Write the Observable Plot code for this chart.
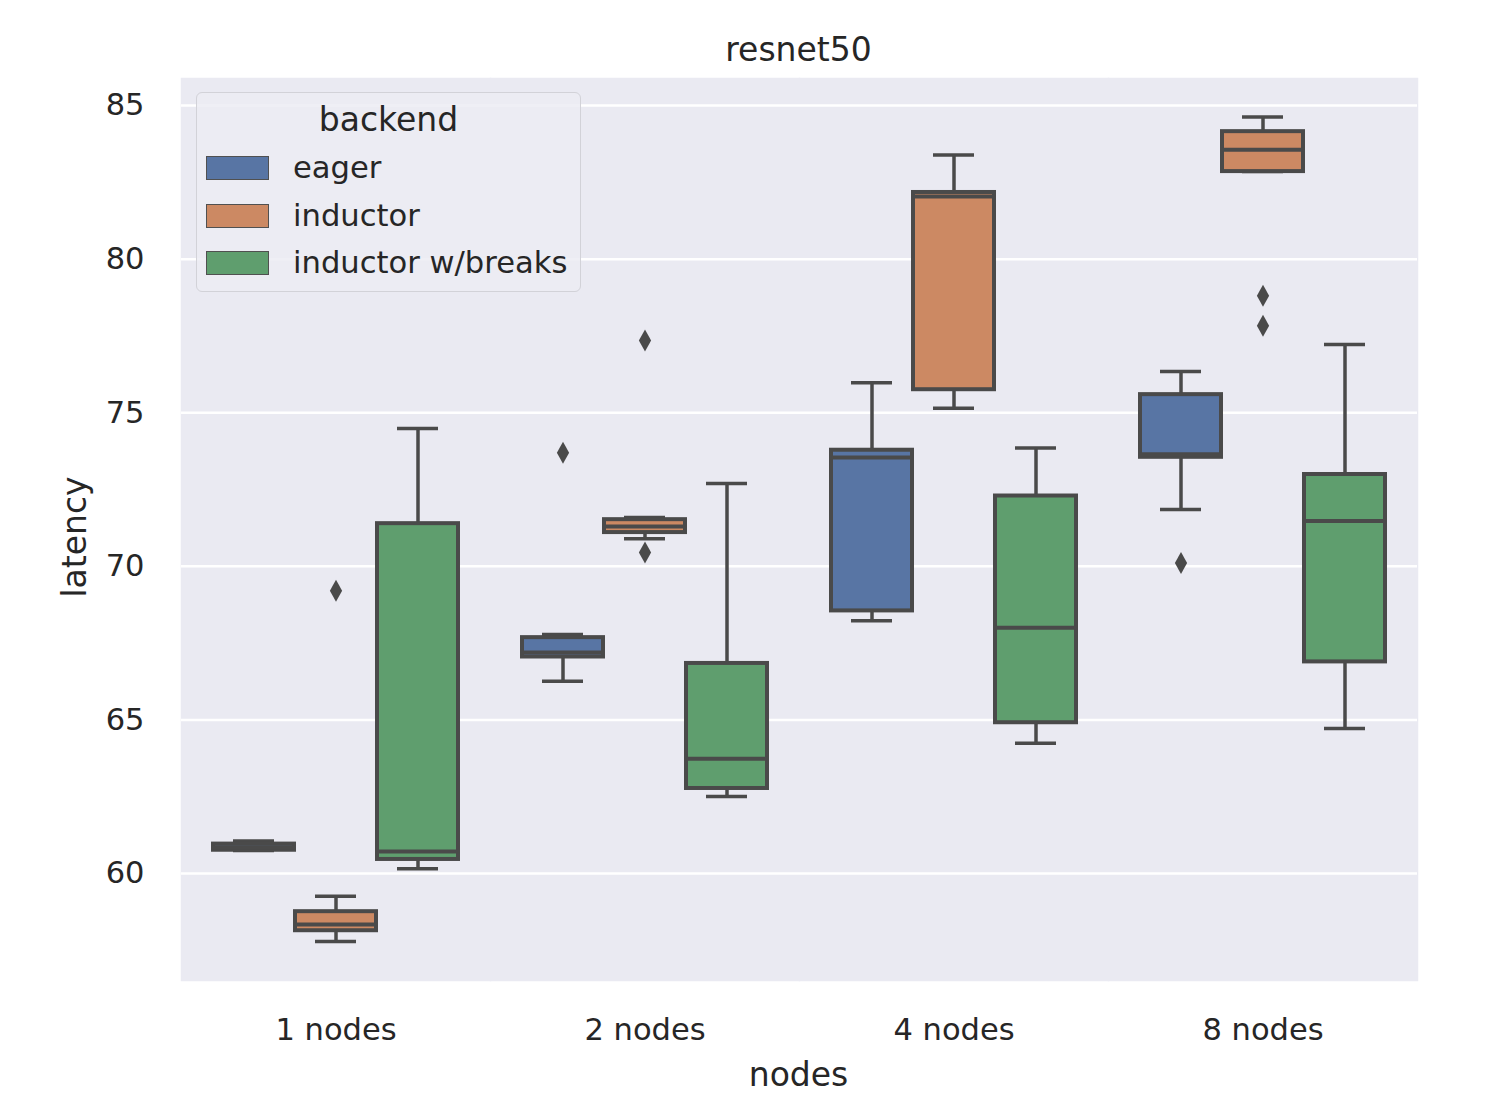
<!DOCTYPE html>
<html>
<head>
<meta charset="utf-8">
<script src="https://cdn.jsdelivr.net/npm/d3@7"></script>
<script src="https://cdn.jsdelivr.net/npm/@observablehq/plot@0.6"></script>
<style>
  body { margin: 0; background: #ffffff; }
  #wrap { position: relative; width: 1488px; height: 1108px; font-family: "DejaVu Sans", sans-serif; color: #262626; }
  .lbl { position: absolute; white-space: nowrap; }
  #legend { position: absolute; left: 196px; top: 92px; width: 385px; height: 200px; box-sizing: border-box;
            border: 1.5px solid #d2d2d8; border-radius: 6px; background: rgba(236,236,243,0.85); }
  .lg-title { position: absolute; left: 0; width: 100%; text-align: center; top: 8px; font-size: 33px; line-height: 38px; }
  .lg-row { position: absolute; left: 9px; height: 30px; }
  .sw { position: absolute; left: 0; top: 2px; width: 63px; height: 24px; box-sizing: border-box; border: 1.5px solid #505050; }
  .lg-text { position: absolute; left: 87px; top: -4px; font-size: 30.6px; line-height: 35px; white-space: nowrap; }
</style>
</head>
<body>
<div id="wrap"></div>
<script>
// ---- data (box statistics) ----
const nodes = ["1 nodes", "2 nodes", "4 nodes", "8 nodes"];
const backends = ["eager", "inductor", "inductor w/breaks"];
const colors = ["#5875a4", "#cc8963", "#5f9e6e"];
// ordered: for each node, eager / inductor / inductor w/breaks
const lowWhisker  = [60.75, 57.79, 60.16, 66.26, 70.90, 62.51, 68.23, 75.15, 64.24, 71.85, 82.85, 64.72];
const q1          = [60.76, 58.14, 60.46, 67.05, 71.10, 62.77, 68.55, 75.75, 64.91, 73.55, 82.85, 66.89];
const median      = [60.86, 58.34, 60.72, 67.20, 71.30, 63.74, 73.54, 82.04, 68.00, 73.65, 83.56, 71.48];
const q3          = [60.96, 58.76, 71.39, 67.68, 71.52, 66.84, 73.78, 82.17, 72.29, 75.59, 84.15, 72.99];
const highWhisker = [61.06, 59.26, 74.49, 67.78, 71.59, 72.70, 75.98, 83.39, 73.85, 76.34, 84.63, 77.22];
// outliers
const outlierNodes    = ["1 nodes", "2 nodes", "2 nodes", "2 nodes", "8 nodes", "8 nodes", "8 nodes"];
const outlierBackends = ["inductor", "eager", "inductor", "inductor", "eager", "inductor", "inductor"];
const outlierValues   = [69.21, 73.70, 77.35, 70.45, 70.11, 78.81, 77.83];
const yTicks = [60, 65, 70, 75, 80, 85];

const rows = nodes.flatMap((n, i) => backends.map((b, j) => {
  const k = i * 3 + j;
  return {nodes: n, backend: b, low: lowWhisker[k], q1: q1[k], median: median[k], q3: q3[k], high: highWhisker[k]};
}));
const outliers = outlierValues.map((v, i) => ({nodes: outlierNodes[i], backend: outlierBackends[i], value: v}));

const gray = "#4a4a4a";
const thinDiamond = {
  draw(context, size) {
    const s = Math.sqrt(size);
    context.moveTo(0, -s * 0.9);
    context.lineTo(s * 0.5, 0);
    context.lineTo(0, s * 0.9);
    context.lineTo(-s * 0.5, 0);
    context.closePath();
  }
};

const chart = Plot.plot({
  width: 1488,
  height: 1108,
  marginLeft: 180,
  marginRight: 71,
  marginTop: 78,
  marginBottom: 128,
  style: {fontFamily: "DejaVu Sans, sans-serif", fontSize: "30.5px", color: "#262626", background: "transparent"},
  fx: {domain: nodes, padding: 0, label: null},
  x: {domain: backends, paddingInner: 0.01, paddingOuter: 0.37, axis: null},
  y: {domain: [56.52, 85.88], label: null},
  color: {domain: backends, range: colors},
  marks: [
    Plot.frame({fill: "#eaeaf2", stroke: "#eaeaf2", strokeWidth: 1.5}),
    Plot.gridY(yTicks, {stroke: "#ffffff", strokeOpacity: 1, strokeWidth: 2.5}),
    Plot.axisY(yTicks, {tickSize: 0, tickPadding: 37, fontSize: 30.5, label: null}),
    Plot.axisFx({anchor: "bottom", tickSize: 0, tickPadding: 38, fontSize: 30.5, label: null}),
    Plot.ruleX(rows, {fx: "nodes", x: "backend", y1: "low", y2: "q1", stroke: gray, strokeWidth: 3.5}),
    Plot.ruleX(rows, {fx: "nodes", x: "backend", y1: "q3", y2: "high", stroke: gray, strokeWidth: 3.5}),
    Plot.tickY(rows, {fx: "nodes", x: "backend", y: "low", stroke: gray, strokeWidth: 3.5, inset: 20}),
    Plot.tickY(rows, {fx: "nodes", x: "backend", y: "high", stroke: gray, strokeWidth: 3.5, inset: 20}),
    Plot.barY(rows, {fx: "nodes", x: "backend", y1: "q1", y2: "q3", fill: "backend", stroke: gray, strokeWidth: 4}),
    Plot.tickY(rows, {fx: "nodes", x: "backend", y: "median", stroke: gray, strokeWidth: 4}),
    Plot.dot(outliers, {fx: "nodes", x: "backend", y: "value", symbol: thinDiamond, r: 6.9, fill: gray, stroke: null})
  ]
});

const wrap = document.getElementById("wrap");
wrap.appendChild(chart);
chart.style.position = "absolute";
chart.style.left = "0px";
chart.style.top = "0px";

function addLabel(text, css) {
  const d = document.createElement("div");
  d.className = "lbl";
  d.textContent = text;
  Object.assign(d.style, css);
  wrap.appendChild(d);
  return d;
}
addLabel("resnet50", {left: "180px", width: "1237px", textAlign: "center", top: "31px", fontSize: "33px", lineHeight: "38px"});
addLabel("nodes", {left: "180px", width: "1237px", textAlign: "center", top: "1056px", fontSize: "33px", lineHeight: "38px"});
addLabel("latency", {left: "75px", top: "537px", fontSize: "33px", lineHeight: "38px", transform: "translate(-50%, -50%) rotate(-90deg)"});

// legend
const legend = document.createElement("div");
legend.id = "legend";
const lt = document.createElement("div");
lt.className = "lg-title";
lt.textContent = "backend";
legend.appendChild(lt);
backends.forEach((b, i) => {
  const row = document.createElement("div");
  row.className = "lg-row";
  row.style.top = (61 + i * 47.5) + "px";
  const sw = document.createElement("div");
  sw.className = "sw";
  sw.style.background = colors[i];
  const tx = document.createElement("div");
  tx.className = "lg-text";
  tx.textContent = b;
  row.appendChild(sw);
  row.appendChild(tx);
  legend.appendChild(row);
});
wrap.appendChild(legend);
</script>
</body>
</html>
